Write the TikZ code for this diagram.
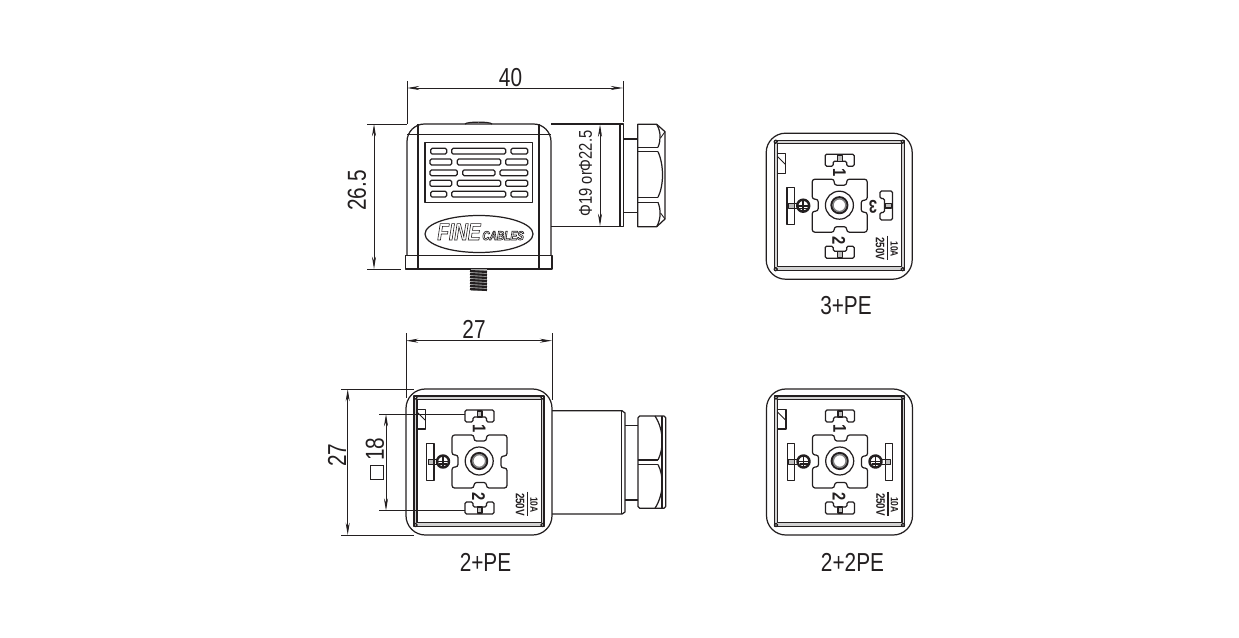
\documentclass[tikz,border=0pt]{standalone}
\usepackage{fontspec}
\setmainfont[FakeStretch=0.8]{Liberation Sans}
\usetikzlibrary{arrows.meta}
\definecolor{ink}{HTML}{231F20}
\newcommand{\outlined}[1]{\special{pdf:code 1 Tr 0.35 w}#1\special{pdf:code 0 Tr}}
\tikzset{
	part/.style={draw=ink, line width=0.7pt, line join=round},
	thinline/.style={draw=ink, line width=0.5pt},
	dimline/.style={draw=ink, line width=0.5pt, {Stealth[length=7pt,width=2.3pt]}-{Stealth[length=7pt,width=2.3pt]}},
	dimtext/.style={text=ink, inner sep=0pt, font=\fontsize{14.8}{16}\selectfont},
	tinytext/.style={text=ink, inner sep=0pt, font=\fontsize{10.5}{11}\bfseries\selectfont},
	pics/earth/.style={code={
		\draw[part, line width=1.4pt] (0,0) circle[radius=6];
		\draw[part, line width=1pt] (0,-5.5) -- (0,5.5) (-5,0) -- (5,0) (-4,2.8) -- (4,2.8);
	}},
	pics/bladeside/.style={code={
		\draw[part] (-3.6,-18.5) rectangle (3.6,18.5);
		\draw[part, fill=gray!50] (-2,-2.5) rectangle (3.6,2.5);
		\draw[part] (3.6,-2.5) -- (6.5,-2.5) (3.6,2.5) -- (6.5,2.5);
	}},
	pics/socket/.style={code={
		%housing + seal
		\draw[part, rounded corners=11] (-73,-73) rectangle (73,73);
		\draw[part, fill=gray!35, even odd rule] (-65,-66) rectangle (65,64.5) (-62,-62.5) rectangle (62.5,60.5);
		\draw[part, fill=white] (-63.5,-64.5) circle[radius=1.7] (63.5,-64.5) circle[radius=1.7] (-63.5,63) circle[radius=1.7] (63.5,63) circle[radius=1.7];
		%key
		\draw[part] (-62,-52.5) -- (-53.5,-52.5) -- (-53.5,-33) -- (-62,-33);
		\draw[part, line width=0.5pt] (-62,-50) -- (-54,-42);
		%centre block
		\draw[part, rounded corners=1.5] (-27,-27) -- (-5,-27) -- (-5,-21) -- (7.5,-21) -- (7.5,-27) -- (28,-27) -- (28,-6) -- (22,-6) -- (22,6) -- (28,6) -- (28,26) -- (7.5,26) -- (7.5,20.5) -- (-5,20.5) -- (-5,26) -- (-27,26) -- (-27,5) -- (-21,5) -- (-21,-7) -- (-27,-7) -- cycle;
		\draw[part] (0.2,-1) circle[radius=14];
		\draw[part, line width=1.2pt] (0.2,-1) circle[radius=8];
		\draw[draw=gray, line width=0.8pt] (0.2,-1) circle[radius=6.4];
		%blade 1
		\draw[part, rounded corners=0.8] (-14,-52) -- (15,-52) -- (15,-40) -- (7.5,-40) -- (7.5,-45) -- (-6,-45) -- (-6,-40) -- (-14,-40) -- cycle;
		\draw[part, fill=gray!50] (-1.5,-51) rectangle (3,-45);
		%blade 2
		\draw[part, rounded corners=0.8] (-14,52) -- (15,52) -- (15,40) -- (7.5,40) -- (7.5,45) -- (-6,45) -- (-6,40) -- (-14,40) -- cycle;
		\draw[part, fill=gray!50] (-1.5,51) rectangle (3,45);
		%earth contact
		\pic at (-48.7,0) {bladeside};
		\pic at (-36,-0.5) {earth};
		%numbers + rating
		\node[tinytext, rotate=-90] (-one) at (0.3,-33.7) {1};
		\node[tinytext, rotate=-90] (-two) at (-0.5,34.5) {2};
		\node[text=ink, inner sep=0pt, font=\fontsize{6}{7}\bfseries\selectfont, rotate=-90] (-amps) at (55,43) {10A};
		\node[text=ink, inner sep=0pt, font=\fontsize{7}{8}\bfseries\selectfont, rotate=-90] (-volts) at (41,42.5) {250V};
		\coordinate (-ratetop) at (48.5,29.5);
		\coordinate (-ratebot) at (48.5,54);
		\draw[part] (-ratetop) -- (-ratebot);
	}}
}
\begin{document}
\begin{tikzpicture}[x=0.02cm,y=-0.02cm]
	\useasboundingbox (0,0) rectangle (1239,638);
	%side view body
		\draw[part, rounded corners=10] (407,256) -- (407,124) -- (551,124) -- (551,256);
		\draw[part] (465,124) .. controls (467,121.5) and (490,121.5) .. (492,124);
		\draw[part] (407,134.7) -- (551,134.7);
		\draw[part] (418,124) -- (418,269) (539,124) -- (539,269);
		\draw[part] (405.7,255.7) rectangle (552,269);
	%grille
		\draw[part] (425,142.7) rectangle (532.7,202.7);
		\draw[part, rounded corners=0.8] (430.7,148.3) rectangle (446.7,154) (451.7,148.3) rectangle (505.7,154) (511,148.3) rectangle (527.7,154);
		\draw[part, rounded corners=0.8] (430,159) rectangle (451.7,165) (457.3,159) rectangle (500.7,165) (505.7,159) rectangle (527.7,165);
		\draw[part, rounded corners=0.8] (430,170) rectangle (457.3,175.7) (462.7,170) rectangle (495,175.7) (500,170) rectangle (527.7,175.7);
		\draw[part, rounded corners=0.8] (430,180.3) rectangle (451.7,186.3) (457.3,180.3) rectangle (500.7,186.3) (505.7,180.3) rectangle (527.7,186.3);
		\draw[part, rounded corners=0.8] (430.7,191.3) rectangle (446.7,197) (451.7,191.3) rectangle (505.7,197) (511,191.3) rectangle (527.7,197);
	%logo
		\draw[part] (479,234) ellipse[x radius=54, y radius=18.5];
		\node[text=ink, inner sep=0pt, font=\fontsize{13.5}{14}\bfseries\itshape\selectfont, anchor=base west] (logofine) at (437,240) {\outlined{FINE}};
		\node[text=ink, inner sep=0pt, font=\fontsize{7.2}{8}\bfseries\itshape\selectfont, anchor=base west] (logocables) at (482,240) {\outlined{CABLES}};
	%side view neck + nut
		\draw[part] (551,226.7) -- (623.3,226.7) -- (623.3,124) -- (551,124);
		\draw[part] (620,124) -- (620,226.7);
		\draw[part] (623.3,139) -- (637.7,139) (623.3,212.3) -- (637.7,212.3);
		\draw[part] (637.7,124.3) -- (656.7,124.3) -- (665,131.7) -- (665,219) -- (656.7,226.7) -- (637.7,226.7) -- cycle;
		\draw[part] (637.7,147.3) -- (658,147.3) (637.7,151.7) -- (658,151.7) (637.7,197.3) -- (658,197.3) (637.7,202.3) -- (658,202.3);
		\draw[part] (656.7,124.3) .. controls (661,132) and (661,140) .. (658,147.3);
		\draw[part] (658,151.7) .. controls (664,165) and (664,185) .. (658,197.3);
		\draw[part] (658,202.3) .. controls (661,210) and (661,219) .. (656.7,226.7);
		\draw[thinline] (665,131.7) -- (660.5,138) (665,219) -- (660.5,213);
	%screw
		\fill[gray!70] (470.5,269) rectangle (487,290.5);
		\draw[draw=ink, line width=1.2pt] (470,271) -- (487,272) (470,274) -- (487,275) (470,277) -- (487,278) (470,280) -- (487,281) (470,283) -- (487,284) (470,286) -- (487,287) (470,289) -- (487,290);
	%dimension 40
		\coordinate (w40a) at (407,88);
		\coordinate (w40b) at (623,88);
		\draw[dimline] (w40a) -- (w40b);
		\draw[thinline] (407,81) -- (407,124) (623,81) -- (623,122);
		\node[dimtext] (lab40) at (510.5,77.5) {40};
	%dimension 26.5
		\coordinate (h26a) at (374,124);
		\coordinate (h26b) at (374,269);
		\draw[dimline] (h26a) -- (h26b);
		\draw[thinline] (367,124) -- (407,124) (367,269) -- (401,269);
		\node[dimtext, rotate=90] (lab265) at (357,190.5) {26.5};
	%dimension cable gland
		\coordinate (dia1) at (600,124.5);
		\coordinate (dia2) at (600,226);
		\draw[dimline] (dia1) -- (dia2);
		\node[text=ink, inner sep=0pt, font=\fontsize{10.5}{12}\selectfont, rotate=90] (labdia) at (585.5,173.5) {Φ19 orΦ22.5};
	%socket faces
		\pic (facea) at (479,462) {socket};
		\pic (faceb) at (839.2,206.2) {socket};
		\pic (facec) at (839.5,462) {socket};
	%3rd contact
		\draw[part, rounded corners=0.8] (880,191) -- (892.5,191) -- (892.5,220) -- (880,220) -- (880,212.5) -- (884.5,212.5) -- (884.5,198.5) -- (880,198.5) -- cycle;
		\draw[part, fill=gray!50] (885,203.5) rectangle (891.5,208);
		\node[tinytext, rotate=180] (faceb-three) at (873,206.5) {3};
	%2nd earth contact
		\pic[xscale=-1] at (888.8,462) {bladeside};
		\pic at (875.5,461.5) {earth};
	%front view neck + nut
		\draw[part] (552,410.7) -- (622,410.7) -- (625,413) -- (625,512) -- (622,514) -- (552,514);
		\draw[part] (621.7,410.7) -- (621.7,514);
		\draw[part] (625,425.7) -- (638,425.7) (625,500) -- (638,500);
		\draw[part, rounded corners=1] (638,416) -- (665.7,416) -- (665.7,508.3) -- (638,508.3) -- cycle;
		\draw[part] (638,460) -- (658,460) (638,464.5) -- (658,464.5);
		\draw[part] (655,416) .. controls (664,430) and (664,448) .. (658,460);
		\draw[part] (658,464.5) .. controls (664,476) and (664,494) .. (655,508.3);
		\draw[part] (662,416) -- (662,508.3);
	%dimension 27 across
		\coordinate (w27a) at (406,340.7);
		\coordinate (w27b) at (552,340.7);
		\draw[dimline] (w27a) -- (w27b);
		\draw[thinline] (406,333) -- (406,398) (552,333) -- (552,400);
		\node[dimtext] (lab27w) at (474,329) {27};
	%dimension 27 down
		\coordinate (h27a) at (347.7,389);
		\coordinate (h27b) at (347.7,535);
		\draw[dimline] (h27a) -- (h27b);
		\draw[thinline] (341,389) -- (414,389) (341,535) -- (414,535);
		\node[dimtext, rotate=90] (lab27h) at (337,455) {27};
	%dimension 18
		\coordinate (h18a) at (386,414);
		\coordinate (h18b) at (386,510.7);
		\draw[dimline] (h18a) -- (h18b);
		\draw[thinline] (379,414) -- (465,414) (379,510.7) -- (465,510.7);
		\node[dimtext, rotate=90] (lab18) at (375,449) {18};
		\node[draw=ink, line width=0.6pt, minimum size=7.6pt, inner sep=0pt] (labsquare) at (377,472.5) {};
	%variant labels
		\node[dimtext] (labpea) at (485.5,562) {2+PE};
		\node[dimtext] (labpeb) at (846,306) {3+PE};
		\node[dimtext] (labpec) at (852.5,562) {2+2PE};
\end{tikzpicture}
\end{document}
